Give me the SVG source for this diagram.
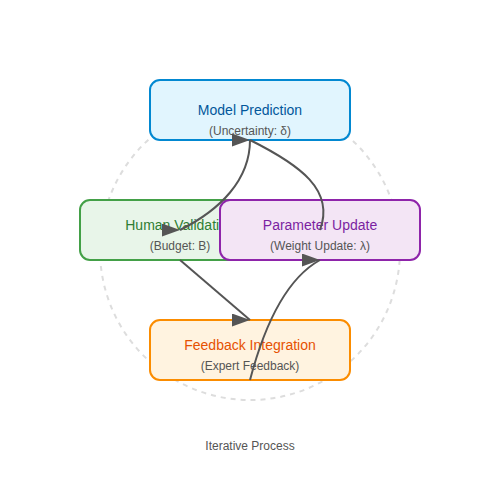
<svg xmlns="http://www.w3.org/2000/svg" width="500" height="500" viewBox="0 0 500 500">
<defs>
<marker id="ah" markerWidth="9" markerHeight="6.5" refX="9" refY="3.25" viewBox="0 0 9 6.5" markerUnits="strokeWidth">
<polygon points="0 0,9 3.25,0 6.5" fill="#555"/>
</marker>
<style>
.t{font-family:"Liberation Sans",Arial,sans-serif;font-size:14px;text-anchor:middle}
.s{font-family:"Liberation Sans",Arial,sans-serif;font-size:12px;text-anchor:middle;fill:#555}
.box{stroke-width:2}
.c{fill:none;stroke:#555;stroke-width:2;marker-end:url(#ah)}
</style>
</defs>
<rect width="500" height="500" fill="#fff"/>
<circle cx="250" cy="250" r="150" fill="none" stroke="#ddd" stroke-width="2" stroke-dasharray="5,5"/>
<g id="model">
<rect class="box" x="150" y="80" width="200" height="60" rx="10" fill="#e1f5fe" stroke="#0288d1"/>
<text class="t" x="250" y="115" fill="#01579b">Model Prediction</text>
<text class="s" x="250" y="135">(Uncertainty: δ)</text>
</g>
<g id="human">
<rect class="box" x="80" y="200" width="200" height="60" rx="10" fill="#e8f5e9" stroke="#43a047"/>
<text class="t" x="180" y="230" fill="#2e7d32">Human Validation</text>
<text class="s" x="180" y="250">(Budget: B)</text>
</g>
<g id="param">
<rect class="box" x="220" y="200" width="200" height="60" rx="10" fill="#f3e5f5" stroke="#8e24aa"/>
<text class="t" x="320" y="230" fill="#7b1fa2">Parameter Update</text>
<text class="s" x="320" y="250">(Weight Update: λ)</text>
</g>
<g id="feedback">
<rect class="box" x="150" y="320" width="200" height="60" rx="10" fill="#fff3e0" stroke="#fb8c00"/>
<text class="t" x="250" y="350" fill="#e65100">Feedback Integration</text>
<text class="s" x="250" y="370">(Expert Feedback)</text>
</g>
<g id="connectors">
<path class="c" d="M250,140 C250,180 220,210 180,230"/>
<path class="c" d="M180,260 L250,320"/>
<path class="c" d="M250,380 Q275,285 320,260"/>
<path class="c" d="M320,230 C335,190 300,165 250,140"/>
</g>
<text class="s" x="250" y="450">Iterative Process</text>
</svg>
